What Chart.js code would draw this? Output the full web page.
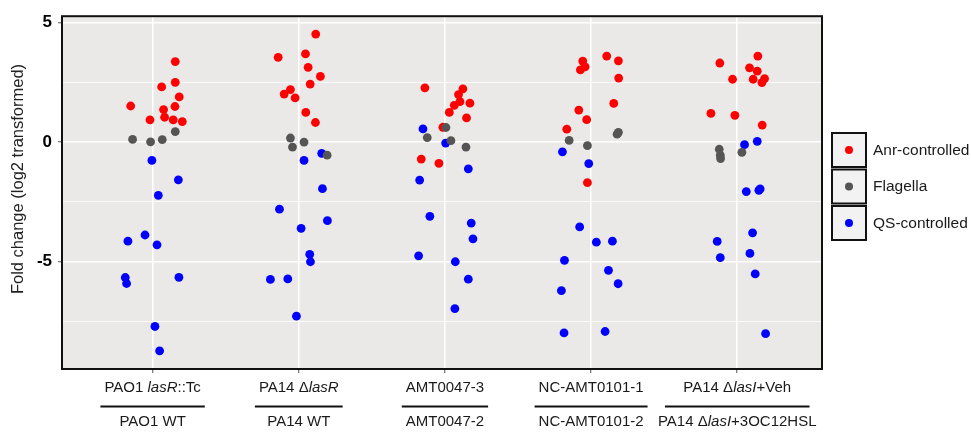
<!DOCTYPE html>
<html><head><meta charset="utf-8">
<script src="https://cdn.jsdelivr.net/npm/chart.js@4.4.1/dist/chart.umd.min.js"></script>
<style>html,body{margin:0;padding:0;background:#fff}</style>
</head><body>
<canvas id="c" width="971" height="432" style="width:971px;height:432px;display:block"></canvas>
<script>
// ---- data ----
// x-axis labels: [text, italic] segments, upper line over lower line
const categoriesTop = [
  [["PAO1 ", false], ["lasR", true], ["::Tc", false]],
  [["PA14 \u0394", false], ["lasR", true]],
  [["AMT0047-3", false]],
  [["NC-AMT0101-1", false]],
  [["PA14 \u0394", false], ["lasI", true], ["+Veh", false]]
];
const categoriesBottom = [
  [["PAO1 WT", false]],
  [["PA14 WT", false]],
  [["AMT0047-2", false]],
  [["NC-AMT0101-2", false]],
  [["PA14 \u0394", false], ["lasI", true], ["+3OC12HSL", false]]
];
const seriesNames = ["Anr-controlled", "Flagella", "QS-controlled"];
const yAxisTitle = "Fold change (log2 transformed)";
const yTickValues = [-7.5, -5, -2.5, 0, 2.5, 5];
const yTickLabels = {"-5": "-5", "0": "0", "5": "5"};

// log2 fold change values, one array per comparison
const anrValues = [
  [3.37, 2.31, 2.50, 1.89, 1.51, 1.36, 1.49, 1.04, 0.93, 0.93, 0.86],
  [4.52, 3.55, 3.69, 3.13, 2.75, 2.43, 2.20, 2.01, 1.85, 1.24, 0.82],
  [2.27, 2.23, 1.99, 1.69, 1.54, 1.63, 1.24, 1.01, 0.62, -0.71, -0.89],
  [3.60, 3.40, 3.39, 3.15, 3.02, 2.68, 1.62, 1.34, 0.94, 0.54, -1.70],
  [3.60, 3.31, 3.11, 2.97, 2.63, 2.63, 2.66, 2.49, 1.20, 1.12, 0.71]
];
const anrJitter = [
  [0.155, 0.062, 0.155, 0.182, -0.150, 0.075, 0.153, 0.082, -0.018, 0.141, 0.203],
  [0.116, -0.141, 0.046, 0.064, 0.148, 0.078, -0.057, -0.100, -0.025, 0.048, 0.114],
  [-0.137, 0.123, 0.093, 0.103, 0.064, 0.171, 0.030, 0.148, -0.014, -0.162, -0.041],
  [0.107, 0.187, -0.057, -0.041, -0.073, 0.189, 0.155, -0.084, -0.030, -0.166, -0.025],
  [0.141, -0.119, 0.084, 0.137, -0.032, 0.109, 0.187, 0.169, -0.180, -0.016, 0.171]
];
const flagellaValues = [
  [0.44, 0.11, 0.01, 0.10],
  [0.17, 0.00, -0.21, -0.55],
  [0.61, 0.19, 0.06, -0.21],
  [0.41, 0.33, 0.07, -0.15],
  [-0.30, -0.55, -0.69, -0.43]
];
const flagellaJitter = [
  [0.155, -0.137, -0.014, 0.066],
  [-0.057, 0.036, -0.043, 0.194],
  [0.007, -0.121, 0.041, 0.144],
  [0.187, 0.178, -0.150, -0.025],
  [-0.123, -0.116, -0.114, 0.032]
];
const qsValues = [
  [-0.77, -1.58, -2.23, -3.89, -4.15, -4.30, -5.67, -5.92, -5.66, -7.72, -8.74],
  [-0.47, -0.77, -1.95, -2.81, -3.29, -3.61, -4.70, -5.01, -5.75, -5.73, -7.29],
  [0.55, -0.04, -1.12, -1.59, -3.11, -3.39, -4.05, -4.76, -5.01, -5.74, -6.97],
  [-0.41, -0.90, -3.55, -4.19, -4.15, -4.95, -5.37, -5.93, -6.22, -7.99, -7.93],
  [0.03, -0.11, -2.07, -2.02, -1.96, -3.80, -4.16, -4.66, -4.84, -5.52, -8.02]
];
const qsJitter = [
  [-0.005, 0.176, 0.039, -0.052, -0.169, 0.030, -0.187, -0.178, 0.180, 0.016, 0.048],
  [0.157, 0.036, 0.162, -0.132, 0.196, 0.016, 0.075, 0.080, -0.194, -0.075, -0.016],
  [-0.150, 0.005, 0.160, -0.173, -0.103, 0.180, 0.192, -0.180, 0.071, 0.160, 0.068],
  [-0.196, -0.016, -0.078, 0.036, 0.146, -0.182, 0.119, 0.185, -0.203, -0.185, 0.096],
  [0.137, 0.050, 0.062, 0.148, 0.157, 0.105, -0.137, 0.087, -0.116, 0.123, 0.194]
];

// ---- build points ----
function toPoints(values, jitter) {
  const pts = [];
  values.forEach((grp, gi) => grp.forEach((v, i) => pts.push({x: gi + 1 + jitter[gi][i], y: v})));
  return pts;
}
const colors = ["#FF0000", "#555555", "#0000FF"];

const FONT = "'Liberation Sans', Arial, sans-serif";

const panelPlugin = {
  id: 'panel',
  beforeDraw(chart) {
    const {ctx, chartArea: a} = chart;
    ctx.save();
    ctx.fillStyle = '#EBE8E8';
    ctx.fillRect(a.left, a.top, a.right - a.left, a.bottom - a.top);
    ctx.restore();
  },
  afterDraw(chart) {
    const {ctx, chartArea: a} = chart;
    ctx.save();
    // panel border
    ctx.strokeStyle = '#111';
    ctx.lineWidth = 2;
    ctx.strokeRect(a.left, a.top, a.right - a.left, a.bottom - a.top);

    // y axis title
    ctx.save();
    ctx.translate(18, 179);
    ctx.rotate(-Math.PI / 2);
    ctx.fillStyle = '#222';
    ctx.font = '16.5px ' + FONT;
    ctx.textAlign = 'center';
    ctx.textBaseline = 'middle';
    ctx.fillText(yAxisTitle, 0, 0);
    ctx.restore();

    // x labels (two lines separated by a rule)
    const xs = chart.scales.x;
    ctx.fillStyle = '#1a1a1a';
    ctx.textBaseline = 'middle';
    ctx.textAlign = 'left';
    const size = 15;
    function segFont(it) { return (it ? 'italic ' : '') + size + 'px ' + FONT; }
    function width(segs) {
      let w = 0;
      segs.forEach(([t, it]) => { ctx.font = segFont(it); w += ctx.measureText(t).width; });
      return w;
    }
    function drawRich(segs, cx, y) {
      let x = cx - width(segs) / 2;
      segs.forEach(([t, it]) => { ctx.font = segFont(it); ctx.fillText(t, x, y); x += ctx.measureText(t).width; });
    }
    for (let i = 0; i < categoriesTop.length; i++) {
      const cx = xs.getPixelForValue(i + 1);
      drawRich(categoriesTop[i], cx, 388);
      drawRich(categoriesBottom[i], cx, 422);
      const lw = Math.max(width(categoriesTop[i]) + 8, width(categoriesBottom[i]) - 14);
      ctx.strokeStyle = '#111';
      ctx.lineWidth = 2;
      ctx.beginPath();
      ctx.moveTo(cx - lw / 2, 406.5);
      ctx.lineTo(cx + lw / 2, 406.5);
      ctx.stroke();
    }

    // legend
    const bx = 832, by0 = 133, bs = 34, gap = 36.5;
    chart.data.datasets.forEach((ds, i) => {
      const y = by0 + i * gap;
      ctx.fillStyle = '#F2F2F2';
      ctx.fillRect(bx, y, bs, bs);
      ctx.strokeStyle = '#111';
      ctx.lineWidth = 2;
      ctx.strokeRect(bx, y, bs, bs);
      ctx.fillStyle = ds.backgroundColor;
      ctx.beginPath();
      ctx.arc(bx + bs / 2, y + bs / 2, 4, 0, Math.PI * 2);
      ctx.fill();
      ctx.fillStyle = '#1a1a1a';
      ctx.font = '15.5px ' + FONT;
      ctx.textBaseline = 'middle';
      ctx.fillText(ds.label, 873, y + bs / 2 + 0.5);
    });
    ctx.restore();
  }
};

new Chart(document.getElementById('c'), {
  type: 'scatter',
  data: {
    datasets: [
      {label: seriesNames[0], data: toPoints(anrValues, anrJitter), backgroundColor: colors[0], order: 1},
      {label: seriesNames[1], data: toPoints(flagellaValues, flagellaJitter), backgroundColor: colors[1], order: 0},
      {label: seriesNames[2], data: toPoints(qsValues, qsJitter), backgroundColor: colors[2], order: 2}
    ]
  },
  options: {
    responsive: false,
    animation: false,
    events: [],
    elements: {point: {radius: 4.4, borderWidth: 0, hoverRadius: 4.4}},
    layout: {padding: {top: 13, right: 149, bottom: 0, left: 0}},
    plugins: {legend: {display: false}, tooltip: {enabled: false}},
    scales: {
      x: {
        type: 'linear', min: 0.38, max: 5.58,
        afterBuildTicks: s => { s.ticks = categoriesTop.map((_, i) => ({value: i + 1})); },
        afterFit: s => { s.height = 63; },
        ticks: {display: true, autoSkip: false, callback: () => '', padding: 0},
        grid: {color: '#FFFFFF', lineWidth: 1.5, drawTicks: true, tickLength: 4, tickColor: '#555', tickWidth: 1},
        border: {display: false}
      },
      y: {
        type: 'linear', min: -9.5, max: 5.27,
        afterBuildTicks: s => { s.ticks = yTickValues.map(v => ({value: v})); },
        afterFit: s => { s.width = 62; },
        ticks: {
          autoSkip: false, padding: 6, color: '#000',
          font: {family: FONT, size: 17, weight: 'bold'},
          callback: v => (yTickLabels[String(v)] !== undefined ? yTickLabels[String(v)] : '')
        },
        grid: {
          color: '#FFFFFF',
          lineWidth: c => (c.tick && c.tick.value % 5 === 0 ? 1.5 : 0.8),
          tickLength: 4,
          tickWidth: 1,
          tickColor: c => (c.tick && c.tick.value % 5 === 0 ? '#555' : 'rgba(0,0,0,0)')
        },
        border: {display: false},
        title: {display: false}
      }
    }
  },
  plugins: [panelPlugin]
});
</script>
</body></html>
